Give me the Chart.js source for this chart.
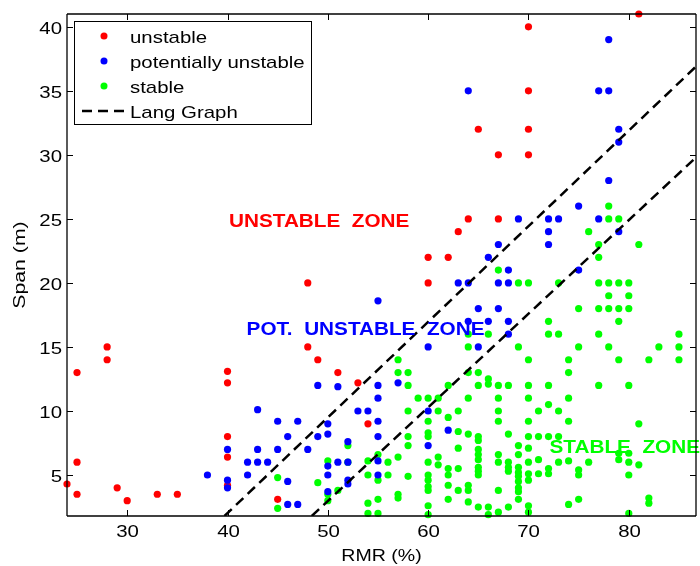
<!DOCTYPE html>
<html>
<head>
<meta charset="utf-8">
<script src="https://cdn.jsdelivr.net/npm/chart.js@4.4.0/dist/chart.umd.min.js"></script>
<style>
  html, body { margin: 0; padding: 0; background: #fff; }
</style>
</head>
<body>
<canvas id="c" width="700" height="566"></canvas>
<script>
// data (RMR %, span m)
var unstable = [[24,4.3],[25,13],[25,6],[25,3.5],[28,15],[28,14],[29,4],[30,3],[33,3.5],[35,3.5],
  [40,13.1],[40,12.2],[40,8],[40,6.4],[40,4.2],[45,3.1],[48,20],[48,15],[49,14],[51,13],[53,12.2],[54,9],
  [60,20],[60,22],[62,22],[63,24],[64,25],[65,32],[67,25],[67,30],[70,30],[70,32],[70,35],[70,40],[81,41]]

var potUnstable = [[64,35],[77,35],[78,35],[78,39],[79,32],[79,31],[78,28],[75,26],[69,25],[72,25],[73,25],[77,25],
  [72,24],[79,24],[67,23],[72,23],[66,22],[68,21],[75,21],[63,20],[64,20],[67,20],[68,20],[55,18.6],[65,18],[67,18],
  [64,17],[66,17],[68,17],[68,16],[60,15],[65,15],
  [38,5],[40,7],[40,4.6],[40,4],[42,6],[42,5],[43,10.1],[43,7],[43,6],[44,6],[45,9.2],[45,7],[46,8],[46,4.5],[46,2.7],
  [47,9.2],[47,2.7],[48,7],[49,12],[49,8],[50,9],[50,8.2],[50,5.7],[50,5],[50,3.7],[51,11.9],[51,6],[52,7.6],[52,6],
  [52,4.6],[52,4.3],[53,10],[54,10],[55,12],[55,11],[55,9.2],[55,8],[55,6.1],[55,5],[57,12.2],[60,10],[60,7.3],[62,8.5]]

var stable = [[45,4.8],[45,2.4],[49,4.4],[50,6.1],[50,3.5],[50,3],[51,3.8],[52,7.3],[52,6],[54,6.1],[54,5],[54,2.8],[54,2],
  [55,6.6],[55,4.6],[55,3.1],[55,2],[56,6],[56,5],[57,14],[57,13],[57,6.4],[57,3.5],[57,3.2],[58,13],[58,12],[58,10],
  [58,8],[58,7.3],[58,4.9],[59,11],[60,11],[60,9.2],[60,8.3],[60,8],[60,6],[60,5],[60,4.6],[60,4.1],[60,3.8],[60,2.6],
  [60,1.9],[61,11],[61,10],[61,6.4],[61,5.8],[62,12],[62,9.5],[62,5.5],[62,5],[62,4.2],[62,3.1],
  [63,10],[63,8.4],[63,7.1],[63,5.5],[63,3.8],[64,16],[64,15],[64,13],[64,11],[64,8.2],[64,4.2],[64,3.8],[64,2.9],
  [65,13],[65,12],[65,8],[65,7.7],[65,7],[65,6.6],[65,6.2],[65,5.6],[65,5.3],[65,5],[65,2.5],[66,16],[66,12.5],[66,12.1],
  [66,2.5],[66,1.9],[67,21],[67,12],[67,11],[67,10],[67,9.2],[67,6.6],[67,6],[67,3.8],[67,2.1],[68,12],[68,8.2],[68,6],
  [68,5.6],[68,5.3],[68,2.5],[69,20],[69,15],[69,7.3],[69,6.6],[69,5.6],[69,5.2],[69,4.9],[69,4.5],[69,4],[69,3.7],[69,3.1],
  [70,20],[70,14],[70,12],[70,11],[70,9.2],[70,8],[70,7.1],[70,6],[70,5.1],[70,4.6],[70,2.6],[70,2.1],[71,10],[71,8],
  [71,6.2],[71,5.1],[72,17],[72,16],[72,12],[72,10.5],[72,8],[72,5.5],[72,5.1],[73,20],[73,16],[73,10],[73,8],[73,6],
  [74,14],[74,13],[74,11],[74,9.2],[74,6.1],[74,2.7],
  [75,18],[75,15],[75,5.4],[75,5],[75,3.1],[76,24],[76,6],[77,23],[77,22],[77,20],[77,18],[77,16],[77,12],[78,26],[78,25],
  [78,20],[78,19],[78,18],[78,15],[79,25],[79,20],[79,18],[79,17],[79,14],[79,6.7],[79,6.2],[80,20],[80,19],[80,18],[80,12],
  [80,6.7],[80,6],[80,5],[80,2],[81,23],[81,9],[81,5.8],[82,14],[82,3.2],[82,2.8],[83,15],[85,16],[85,15],[85,14]]

// Lang graph boundaries (end points)
var langUpper = [[39.7,1.8],[86.7,36.9]]
var langLower = [[48.4,1.8],[86.7,29.8]]

var xTicks = [30, 40, 50, 60, 70, 80]
var yTicks = [5, 10, 15, 20, 25, 30, 35, 40]

var legendItems = ['unstable', 'potentially unstable', 'stable', 'Lang Graph']
var zones = [
    {text: 'UNSTABLE  ZONE', x: 40.15, y: 24.4, color: '#ff0000'},
    {text: 'POT.  UNSTABLE  ZONE', x: 41.9, y: 15.95, color: '#0000ff'},
    {text: 'STABLE  ZONE', x: 72.1, y: 6.72, color: '#00ff00'}
]

var pts = arr => arr.map(p => ({x: p[0], y: p[1]}))
var FONT = '"Liberation Sans", Arial, sans-serif'

// draw text stretched a little wider, like the reference font
function txt(ctx, s, x, y, font, color, align, sx) {
    ctx.save()
    ctx.font = font
    ctx.fillStyle = color
    ctx.textAlign = 'left'
    ctx.textBaseline = 'alphabetic'
    var w = ctx.measureText(s).width * sx
    var x0 = align === 'center' ? x - w / 2 : (align === 'right' ? x - w : x)
    ctx.translate(x0, y)
    ctx.scale(sx, 1)
    ctx.fillText(s, 0, 0)
    ctx.restore()
}

function seg(ctx, x1, y1, x2, y2) {
    ctx.beginPath()
    ctx.moveTo(x1, y1)
    ctx.lineTo(x2, y2)
    ctx.stroke()
}

var frame = {
    id: 'frame',
    afterDatasetsDraw: chart => {
        var ctx = chart.ctx, a = chart.chartArea
        var xs = chart.scales.x, ys = chart.scales.y
        ctx.save()

        // zone labels
        zones.forEach(z => {
            txt(ctx, z.text, xs.getPixelForValue(z.x), ys.getPixelForValue(z.y), 'bold 18.5px ' + FONT, z.color, 'left', 1.12)
        })

        // axes box + inner ticks
        ctx.strokeStyle = '#000'
        ctx.lineWidth = 1.3
        seg(ctx, a.left, a.top, a.right, a.top)
        seg(ctx, a.left, a.bottom, a.right, a.bottom)
        seg(ctx, a.left, a.top, a.left, a.bottom)
        seg(ctx, a.right, a.top, a.right, a.bottom)
        ctx.lineWidth = 1
        xTicks.forEach(v => {
            var p = Math.round(xs.getPixelForValue(v)) + 0.5
            seg(ctx, p, a.bottom, p, a.bottom - 6)
            seg(ctx, p, a.top, p, a.top + 6)
            txt(ctx, String(v), p, a.bottom + 21, '17px ' + FONT, '#000', 'center', 1.2)
        })
        yTicks.forEach(v => {
            var p = Math.round(ys.getPixelForValue(v)) + 0.5
            seg(ctx, a.left, p, a.left + 6, p)
            seg(ctx, a.right, p, a.right - 6, p)
            txt(ctx, String(v), a.left - 5, p + 6, '17px ' + FONT, '#000', 'right', 1.2)
        })

        // axis titles
        txt(ctx, 'RMR (%)', (a.left + a.right) / 2, 561, '17px ' + FONT, '#000', 'center', 1.15)
        ctx.save()
        ctx.translate(25, (a.top + a.bottom) / 2)
        ctx.rotate(-Math.PI / 2)
        txt(ctx, 'Span (m)', 0, 0, '17px ' + FONT, '#000', 'center', 1.25)
        ctx.restore()

        // legend
        ctx.fillStyle = '#fff'
        ctx.fillRect(74.5, 21.5, 237, 103)
        ctx.strokeStyle = '#000'
        ctx.lineWidth = 1
        ctx.strokeRect(74.5, 21.5, 237, 103)
        var cols = ['#ff0000', '#0000ff', '#00ff00']
        legendItems.forEach((name, i) => {
            var cy = 36 + i * 25
            if (i < 3) {
                ctx.fillStyle = cols[i]
                ctx.beginPath()
                ctx.arc(104, cy, 3.5, 0, Math.PI * 2)
                ctx.fill()
            } else {
                ctx.save()
                ctx.lineWidth = 2.5
                ctx.setLineDash([10, 6])
                seg(ctx, 82, cy, 126, cy)
                ctx.restore()
            }
            txt(ctx, name, 130, cy + 7, '17px ' + FONT, '#000', 'left', 1.2)
        })
        ctx.restore()
    }
}

var ctx = document.getElementById('c')
var chart = new Chart(ctx, {
    type: 'scatter',
    data: {
        datasets: [
            {label: 'Lang Graph', data: pts(langUpper), showLine: true, borderColor: '#000', borderWidth: 2.5,
                borderDash: [10, 6], pointRadius: 0, order: 0},
            {label: 'Lang Graph', data: pts(langLower), showLine: true, borderColor: '#000', borderWidth: 2.5,
                borderDash: [10, 6], pointRadius: 0, order: 0},
            {label: 'potentially unstable', data: pts(potUnstable), backgroundColor: '#0000ff', pointRadius: 3.6,
                borderWidth: 0, clip: false, order: 1},
            {label: 'unstable', data: pts(unstable), backgroundColor: '#ff0000', pointRadius: 3.6,
                borderWidth: 0, clip: false, order: 2},
            {label: 'stable', data: pts(stable), backgroundColor: '#00ff00', pointRadius: 3.6,
                borderWidth: 0, clip: false, order: 3}
        ]
    },
    options: {
        responsive: false,
        animation: false,
        devicePixelRatio: 1,
        layout: {padding: {left: 67, top: 14, right: 0, bottom: 50}},
        plugins: {legend: {display: false}, tooltip: {enabled: false}},
        scales: {
            x: {type: 'linear', min: 24, max: 86.7, display: false},
            y: {type: 'linear', min: 1.8, max: 41, display: false}
        }
    },
    plugins: [frame]
})
</script>
</body>
</html>
